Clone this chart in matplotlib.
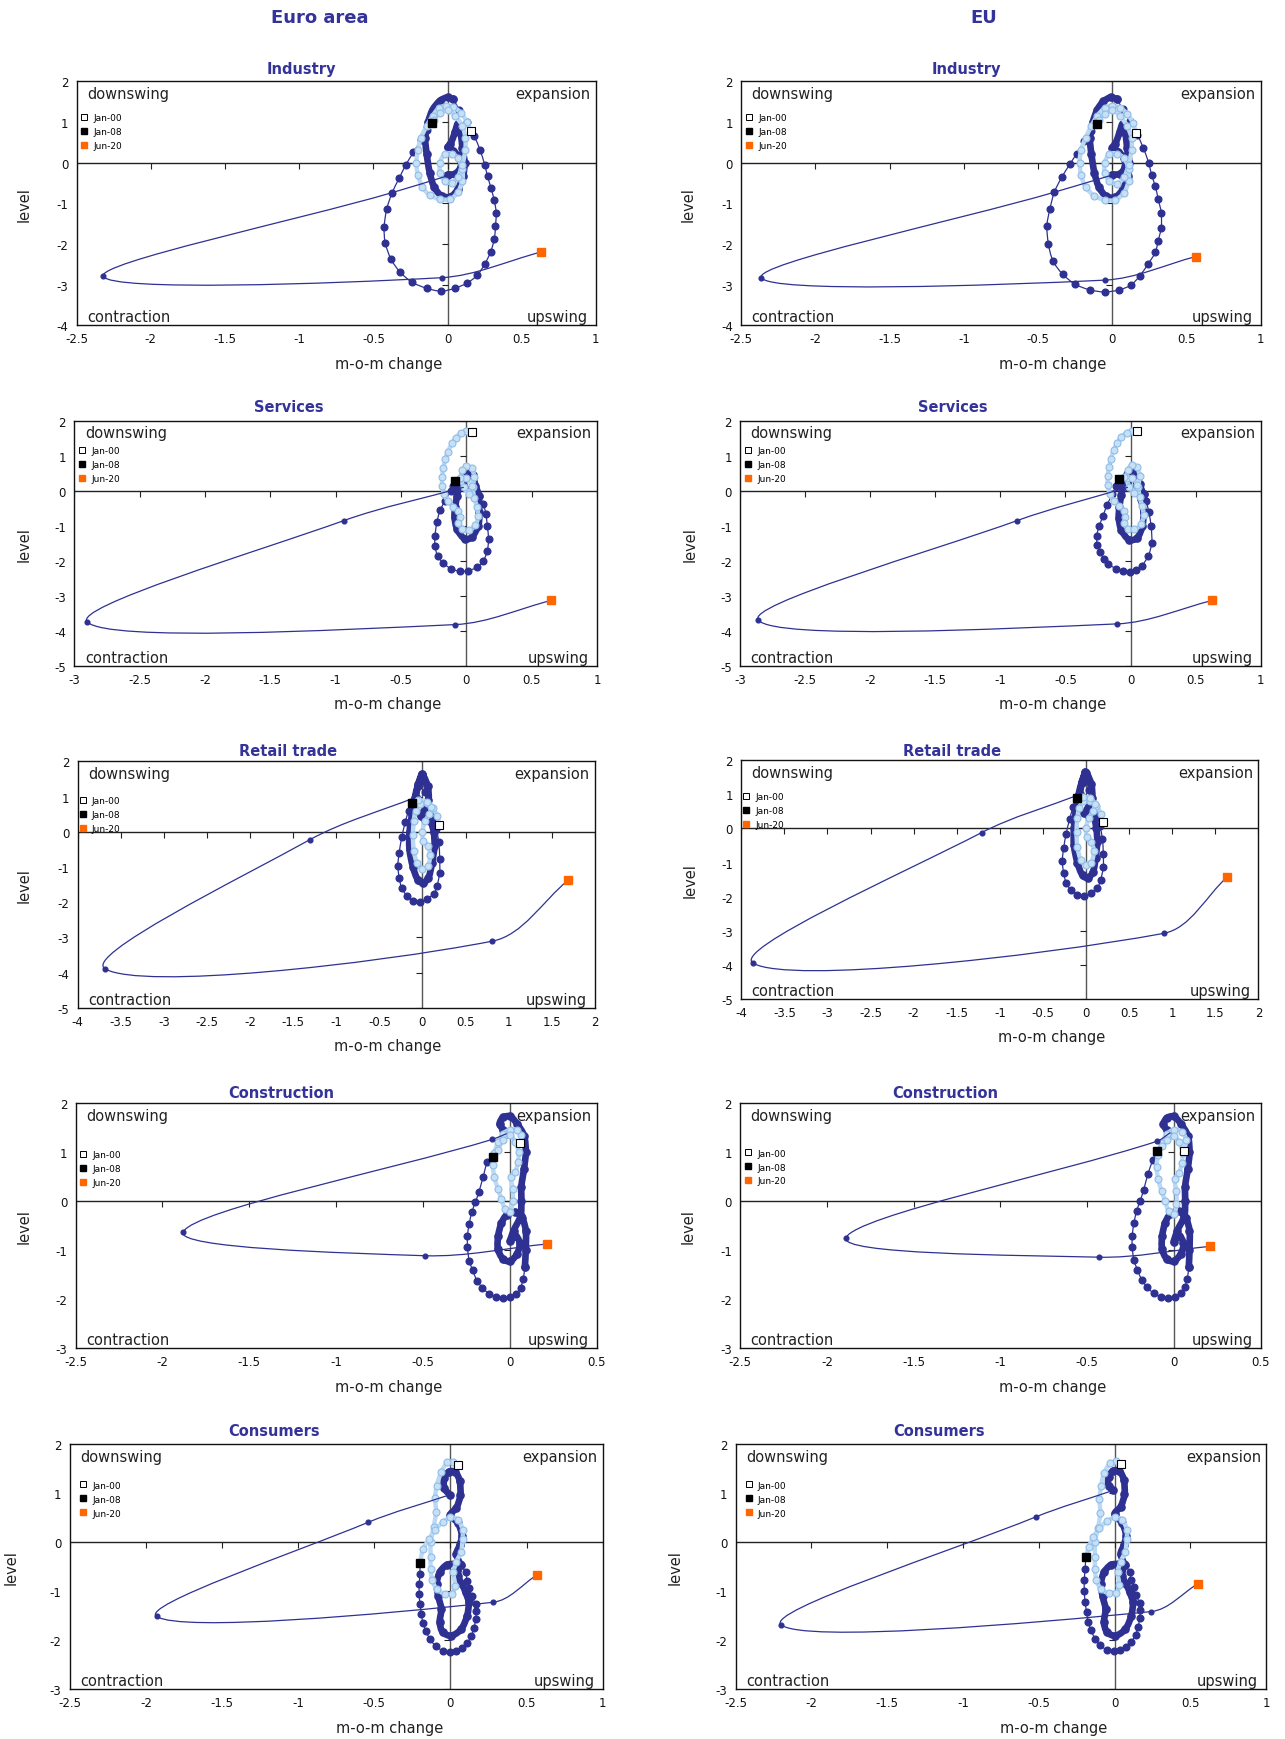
import matplotlib

matplotlib.use("Agg")
import matplotlib.pyplot as plt
import numpy as np
from matplotlib.lines import Line2D
from matplotlib.patches import PathPatch
from matplotlib.path import Path

W, H = 1285, 1740
NAVY = "#2E3192"
LIGHT_LINE = "#BCD9F3"
LIGHT_FILL = "#C8E0F6"
LIGHT_EDGE = "#8FBDE8"
ORANGE = "#FF6600"
TITLE_BLUE = "#333399"

# ---- Euro area -------------------------------------------------------------
IND_EA_LIGHT = [
    (0.156, 0.77), (0.13, 1.0), (0.09, 1.22), (0.04, 1.36), (-0.01, 1.4), (-0.06, 1.33),
    (-0.1, 1.15), (-0.14, 0.9), (-0.18, 0.6), (-0.2, 0.3), (-0.21, 0.0), (-0.2, -0.3),
    (-0.17, -0.6), (-0.12, -0.8), (-0.05, -0.9), (0.02, -0.9), (0.07, -0.72), (0.1, -0.45),
    (0.1, -0.15), (0.07, 0.1), (0.03, 0.22), (-0.02, 0.2), (-0.05, 0.0), (-0.05, -0.25),
    (-0.02, -0.45), (0.03, -0.5), (0.07, -0.35), (0.1, -0.05), (0.12, 0.3), (0.12, 0.6),
    (0.1, 0.9), (0.05, 1.15), (0.0, 1.28), (-0.05, 1.22), (-0.09, 1.05), (-0.107, 0.96),
]
IND_EA_CRISIS = [
    (-0.107, 0.96), (-0.14, 0.8), (-0.18, 0.55), (-0.23, 0.25), (-0.28, -0.05), (-0.325, -0.38),
    (-0.373, -0.74), (-0.41, -1.15), (-0.427, -1.59), (-0.42, -1.97), (-0.38, -2.38),
    (-0.32, -2.69), (-0.24, -2.94), (-0.14, -3.09), (-0.043, -3.16), (0.048, -3.09),
    (0.133, -2.96), (0.2, -2.77), (0.25, -2.5), (0.29, -2.2), (0.315, -1.88), (0.323, -1.57),
    (0.328, -1.24), (0.315, -0.93), (0.293, -0.63), (0.27, -0.34), (0.25, -0.05), (0.22, 0.3),
    (0.18, 0.65), (0.13, 1.0), (0.08, 1.3), (0.04, 1.55),
]
IND_EA_RECENT = [
    (0.04, 1.55), (0.0, 1.6), (-0.05, 1.52), (-0.1, 1.3), (-0.13, 1.0), (-0.15, 0.6),
    (-0.14, 0.2), (-0.12, -0.25), (-0.09, -0.6), (-0.04, -0.82), (0.02, -0.84), (0.07, -0.65),
    (0.105, -0.32), (0.115, 0.0), (0.1, 0.35), (0.09, 0.7), (0.07, 0.95), (0.05, 0.75),
    (0.02, 0.45), (0.0, 0.37), (0.04, 0.28), (0.08, 0.12), (0.09, -0.1), (0.05, -0.28),
    (0.0, -0.3), (-0.02, -0.35),
]
IND_EA_COVID = [(-0.02, -0.35), (-0.373, -0.74), (-2.32, -2.8), (-0.04, -2.83), (0.63, -2.2)]

SRV_EA_LIGHT = [
    (0.04, 1.69), (0.0, 1.7), (-0.04, 1.64), (-0.08, 1.52), (-0.11, 1.35), (-0.14, 1.12),
    (-0.16, 0.9), (-0.175, 0.65), (-0.185, 0.4), (-0.185, 0.15), (-0.17, -0.1), (-0.14, -0.3),
    (-0.1, -0.45), (-0.06, -0.58), (-0.05, -0.75), (-0.06, -0.92), (-0.03, -1.08), (0.02, -1.12),
    (0.07, -0.98), (0.09, -0.72), (0.08, -0.45), (0.06, -0.2), (0.05, 0.1), (0.06, 0.4),
    (0.04, 0.65), (0.0, 0.72), (-0.03, 0.58), (-0.04, 0.35), (-0.02, 0.1), (0.02, -0.08),
    (0.04, 0.15), (0.0, 0.35), (-0.05, 0.35), (-0.084, 0.29),
]
SRV_EA_CRISIS = [
    (-0.084, 0.29), (-0.1, 0.15), (-0.12, 0.0), (-0.16, -0.28), (-0.2, -0.55), (-0.225, -0.9),
    (-0.24, -1.29), (-0.24, -1.57), (-0.22, -1.86), (-0.18, -2.05), (-0.12, -2.22), (-0.05, -2.3),
    (0.01, -2.28), (0.08, -2.19), (0.13, -2.0), (0.16, -1.72), (0.17, -1.38), (0.16, -1.0),
    (0.15, -0.67), (0.13, -0.38), (0.1, -0.14),
]
SRV_EA_RECENT = [
    (0.1, -0.14), (0.07, 0.15), (0.05, 0.45), (0.02, 0.6), (-0.02, 0.5), (-0.05, 0.25),
    (-0.07, -0.14), (-0.085, -0.45), (-0.09, -0.75), (-0.07, -1.1), (-0.01, -1.38), (0.04, -1.33),
    (0.09, -1.0), (0.1, -0.62), (0.08, -0.24), (0.05, 0.14), (0.03, 0.45), (0.01, 0.55),
    (-0.01, 0.4), (-0.02, 0.1),
]
SRV_EA_COVID = [(-0.02, 0.1), (-0.936, -0.85), (-2.9, -3.75), (-0.083, -3.82), (0.65, -3.13)]

RET_EA_LIGHT = [
    (0.195, 0.2), (0.17, 0.45), (0.12, 0.68), (0.05, 0.82), (-0.03, 0.8), (-0.08, 0.6),
    (-0.1, 0.3), (-0.11, -0.1), (-0.1, -0.55), (-0.06, -0.9), (0.0, -1.05), (0.06, -0.98),
    (0.09, -0.65), (0.06, -0.4), (0.01, -0.25), (0.0, 0.0), (0.03, 0.3), (0.08, 0.5),
    (0.1, 0.7), (0.05, 0.85), (-0.05, 0.9), (-0.125, 0.83),
]
RET_EA_CRISIS = [
    (-0.125, 0.83), (-0.16, 0.6), (-0.2, 0.27), (-0.24, -0.16), (-0.27, -0.6), (-0.285, -0.97),
    (-0.27, -1.3), (-0.24, -1.6), (-0.18, -1.82), (-0.106, -1.96), (-0.03, -1.99), (0.05, -1.9),
    (0.13, -1.77), (0.17, -1.53), (0.2, -1.16), (0.2, -0.78), (0.19, -0.3), (0.16, 0.08),
    (0.13, 0.36), (0.09, 0.55), (0.05, 0.83), (0.03, 1.12), (0.0, 1.5), (-0.01, 1.64),
]
RET_EA_RECENT = [
    (-0.01, 1.64), (-0.05, 1.35), (-0.09, 0.95), (-0.12, 0.5), (-0.15, 0.0), (-0.15, -0.5),
    (-0.11, -1.0), (-0.05, -1.38), (0.01, -1.45), (0.07, -1.3), (0.11, -0.9), (0.14, -0.4),
    (0.13, 0.0), (0.09, 0.3), (0.02, 0.4), (-0.02, 0.45), (0.02, 0.6), (0.07, 0.9),
    (0.06, 1.3), (0.0, 1.6), (-0.05, 1.3), (-0.08, 0.98),
]
RET_EA_COVID = [(-0.08, 0.98), (-1.31, -0.23), (-3.68, -3.9), (0.81, -3.11), (1.69, -1.38)]

CON_EA_LIGHT = [
    (0.058, 1.18), (0.065, 1.35), (0.04, 1.45), (0.0, 1.46), (-0.04, 1.38), (-0.07, 1.2),
    (-0.09, 0.98), (-0.1, 0.75), (-0.09, 0.5), (-0.07, 0.25), (-0.05, 0.05), (-0.03, -0.15),
    (0.0, -0.22), (0.015, 0.0), (0.015, 0.25), (0.005, 0.5), (0.03, 0.6), (0.045, 0.8),
    (0.05, 1.0), (0.03, 1.2), (0.0, 1.35), (-0.04, 1.25), (-0.07, 1.05), (-0.1, 0.9),
]
CON_EA_CRISIS = [
    (-0.1, 0.9), (-0.13, 0.8), (-0.155, 0.5), (-0.18, 0.18), (-0.2, -0.02), (-0.22, -0.22),
    (-0.235, -0.46), (-0.245, -0.7), (-0.245, -0.94), (-0.235, -1.21), (-0.215, -1.41),
    (-0.19, -1.62), (-0.16, -1.76), (-0.12, -1.89), (-0.08, -1.96), (-0.04, -1.98), (0.0, -1.96),
    (0.035, -1.89), (0.06, -1.76), (0.075, -1.59), (0.085, -1.35),
]
CON_EA_RECENT = [
    (0.085, -1.35), (0.09, -1.0), (0.09, -0.6), (0.07, -0.35), (0.03, -0.22), (-0.02, -0.28),
    (-0.05, -0.45), (-0.068, -0.7), (-0.07, -0.97), (-0.04, -1.18), (0.0, -1.22), (0.04, -1.07),
    (0.055, -0.85), (0.03, -0.7), (0.0, -0.82), (0.02, -0.6), (0.06, -0.3), (0.065, 0.0),
    (0.065, 0.3), (0.08, 0.66), (0.09, 1.0), (0.08, 1.34), (0.04, 1.58), (0.0, 1.73),
    (-0.04, 1.71), (-0.06, 1.58), (-0.04, 1.46), (-0.02, 1.38),
]
CON_EA_COVID = [(-0.02, 1.38), (-0.104, 1.26), (-1.88, -0.62), (-0.49, -1.11), (0.215, -0.87)]

CNS_EA_LIGHT = [
    (0.048, 1.57), (0.02, 1.63), (-0.02, 1.62), (-0.06, 1.42), (-0.09, 1.15), (-0.1, 0.9),
    (-0.095, 0.6), (-0.11, 0.3), (-0.13, 0.0), (-0.13, -0.3), (-0.13, -0.55), (-0.12, -0.78),
    (-0.09, -0.96), (-0.035, -1.06), (0.01, -1.06), (0.03, -0.89), (0.02, -0.62), (0.04, -0.4),
    (0.07, -0.2), (0.08, 0.05), (0.08, 0.25), (0.05, 0.45), (0.0, 0.5), (-0.05, 0.4),
    (-0.1, 0.25), (-0.14, 0.05), (-0.18, -0.15), (-0.2, -0.43),
]
CNS_EA_CRISIS = [
    (-0.2, -0.43), (-0.2, -0.65), (-0.205, -0.86), (-0.205, -1.06), (-0.2, -1.27), (-0.19, -1.47),
    (-0.18, -1.66), (-0.16, -1.81), (-0.136, -1.98), (-0.097, -2.12), (-0.05, -2.22),
    (-0.005, -2.25), (0.034, -2.23), (0.073, -2.17), (0.11, -2.07), (0.138, -1.91),
    (0.155, -1.75), (0.165, -1.58), (0.17, -1.4), (0.165, -1.27), (0.14, -1.1), (0.125, -0.93),
    (0.11, -0.79), (0.1, -0.62), (0.07, -0.48),
]
CNS_EA_RECENT = [
    (0.07, -0.48), (0.03, -0.45), (-0.025, -0.47), (-0.07, -0.62), (-0.09, -0.85), (-0.08, -1.1),
    (-0.06, -1.37), (-0.07, -1.64), (-0.05, -1.84), (0.005, -1.91), (0.07, -1.78), (0.11, -1.5),
    (0.12, -1.23), (0.1, -1.03), (0.075, -0.85), (0.05, -0.7), (0.06, -0.45), (0.04, -0.24),
    (0.06, -0.07), (0.075, 0.13), (0.05, 0.38), (0.0, 0.55), (0.04, 0.7), (0.065, 0.95),
    (0.06, 1.25), (0.03, 1.43), (-0.01, 1.43), (-0.04, 1.3), (-0.04, 1.1), (-0.005, 0.96),
]
CNS_EA_COVID = [(-0.005, 0.96), (-0.54, 0.4), (-1.93, -1.52), (0.28, -1.23), (0.57, -0.67)]

# ---- EU --------------------------------------------------------------------
IND_EU_LIGHT = [
    (0.16, 0.725), (0.14, 0.97), (0.1, 1.2), (0.05, 1.35), (0.0, 1.4), (-0.05, 1.34),
    (-0.1, 1.15), (-0.14, 0.9), (-0.18, 0.6), (-0.21, 0.3), (-0.22, 0.0), (-0.21, -0.3),
    (-0.18, -0.6), (-0.12, -0.82), (-0.05, -0.92), (0.02, -0.92), (0.08, -0.74), (0.11, -0.45),
    (0.11, -0.15), (0.08, 0.1), (0.03, 0.22), (-0.02, 0.2), (-0.05, 0.0), (-0.05, -0.25),
    (-0.02, -0.45), (0.03, -0.52), (0.08, -0.36), (0.11, -0.05), (0.13, 0.3), (0.13, 0.6),
    (0.1, 0.9), (0.05, 1.15), (0.0, 1.28), (-0.05, 1.2), (-0.09, 1.04), (-0.106, 0.95),
]
IND_EU_CRISIS = [
    (-0.106, 0.95), (-0.14, 0.78), (-0.19, 0.52), (-0.24, 0.22), (-0.285, -0.04), (-0.34, -0.36),
    (-0.39, -0.73), (-0.42, -1.14), (-0.44, -1.55), (-0.43, -2.0), (-0.4, -2.41), (-0.335, -2.74),
    (-0.25, -2.99), (-0.15, -3.13), (-0.05, -3.18), (0.047, -3.13), (0.126, -3.01),
    (0.187, -2.78), (0.24, -2.5), (0.29, -2.21), (0.31, -1.92), (0.33, -1.6), (0.33, -1.23),
    (0.31, -0.9), (0.29, -0.58), (0.265, -0.3), (0.245, 0.0), (0.21, 0.35), (0.17, 0.68),
    (0.12, 1.02), (0.07, 1.32), (0.03, 1.56),
]
IND_EU_RECENT = [
    (0.03, 1.56), (-0.01, 1.6), (-0.06, 1.5), (-0.1, 1.3), (-0.13, 1.0), (-0.15, 0.6),
    (-0.14, 0.2), (-0.12, -0.25), (-0.09, -0.6), (-0.04, -0.83), (0.02, -0.85), (0.07, -0.66),
    (0.105, -0.33), (0.115, 0.0), (0.1, 0.35), (0.09, 0.7), (0.07, 0.95), (0.05, 0.75),
    (0.02, 0.45), (0.0, 0.36), (0.04, 0.27), (0.08, 0.1), (0.085, -0.12), (0.05, -0.28),
    (0.0, -0.3), (-0.02, -0.33),
]
IND_EU_COVID = [(-0.02, -0.33), (-0.39, -0.73), (-2.365, -2.83), (-0.05, -2.89), (0.564, -2.31)]

SRV_EU_LIGHT = [
    (0.047, 1.7), (0.01, 1.72), (-0.03, 1.66), (-0.07, 1.54), (-0.1, 1.37), (-0.13, 1.15),
    (-0.15, 0.92), (-0.165, 0.67), (-0.175, 0.42), (-0.175, 0.17), (-0.16, -0.08), (-0.13, -0.28),
    (-0.09, -0.43), (-0.05, -0.57), (-0.04, -0.75), (-0.05, -0.93), (-0.02, -1.08), (0.03, -1.1),
    (0.08, -0.96), (0.1, -0.7), (0.09, -0.43), (0.07, -0.18), (0.06, 0.12), (0.07, 0.42),
    (0.05, 0.67), (0.01, 0.74), (-0.02, 0.6), (-0.03, 0.37), (-0.01, 0.12), (0.03, -0.06),
    (0.05, 0.17), (0.01, 0.37), (-0.05, 0.38), (-0.088, 0.33),
]
SRV_EU_CRISIS = [
    (-0.088, 0.33), (-0.11, 0.15), (-0.14, -0.1), (-0.18, -0.4), (-0.21, -0.71), (-0.24, -1.0),
    (-0.26, -1.29), (-0.255, -1.55), (-0.235, -1.76), (-0.2, -1.95), (-0.17, -2.1),
    (-0.11, -2.22), (-0.055, -2.29), (-0.004, -2.31), (0.045, -2.25), (0.086, -2.14),
    (0.137, -1.86), (0.163, -1.48), (0.158, -1.0), (0.14, -0.6), (0.12, -0.3), (0.1, -0.1),
]
SRV_EU_RECENT = [
    (0.1, -0.1), (0.07, 0.18), (0.05, 0.47), (0.02, 0.62), (-0.02, 0.52), (-0.05, 0.27),
    (-0.07, -0.12), (-0.085, -0.45), (-0.09, -0.78), (-0.07, -1.12), (-0.01, -1.4), (0.05, -1.35),
    (0.09, -1.02), (0.1, -0.62), (0.08, -0.24), (0.05, 0.14), (0.03, 0.45), (0.01, 0.55),
    (-0.01, 0.4), (-0.02, 0.1),
]
SRV_EU_COVID = [(-0.02, 0.1), (-0.87, -0.85), (-2.86, -3.7), (-0.1, -3.8), (0.63, -3.13)]

RET_EU_LIGHT = [
    (0.196, 0.18), (0.17, 0.43), (0.12, 0.67), (0.05, 0.82), (-0.03, 0.8), (-0.08, 0.6),
    (-0.1, 0.3), (-0.11, -0.1), (-0.1, -0.55), (-0.06, -0.92), (0.0, -1.07), (0.06, -1.0),
    (0.09, -0.66), (0.06, -0.4), (0.01, -0.25), (0.0, 0.0), (0.03, 0.3), (0.08, 0.5),
    (0.1, 0.72), (0.05, 0.88), (-0.04, 0.93), (-0.11, 0.89),
]
RET_EU_CRISIS = [
    (-0.11, 0.89), (-0.15, 0.62), (-0.19, 0.28), (-0.23, -0.15), (-0.26, -0.58), (-0.275, -0.96),
    (-0.26, -1.3), (-0.23, -1.6), (-0.17, -1.82), (-0.1, -1.96), (-0.02, -1.99), (0.06, -1.9),
    (0.13, -1.76), (0.17, -1.5), (0.2, -1.14), (0.2, -0.76), (0.19, -0.3), (0.16, 0.08),
    (0.13, 0.36), (0.09, 0.56), (0.05, 0.85), (0.03, 1.14), (0.0, 1.52), (-0.01, 1.66),
]
RET_EU_RECENT = [
    (-0.01, 1.66), (-0.05, 1.36), (-0.09, 0.96), (-0.12, 0.5), (-0.14, 0.0), (-0.14, -0.5),
    (-0.1, -1.0), (-0.04, -1.38), (0.02, -1.45), (0.08, -1.28), (0.11, -0.88), (0.13, -0.4),
    (0.12, 0.0), (0.09, 0.3), (0.02, 0.4), (-0.02, 0.45), (0.02, 0.6), (0.07, 0.9),
    (0.06, 1.3), (0.0, 1.62), (-0.05, 1.32), (-0.07, 1.0),
]
RET_EU_COVID = [(-0.07, 1.0), (-1.21, -0.12), (-3.86, -3.96), (0.9, -3.08), (1.64, -1.42)]

CON_EU_LIGHT = [
    (0.058, 1.03), (0.07, 1.25), (0.045, 1.42), (0.0, 1.46), (-0.04, 1.37), (-0.07, 1.18),
    (-0.09, 0.95), (-0.1, 0.7), (-0.09, 0.45), (-0.07, 0.2), (-0.05, 0.0), (-0.03, -0.2),
    (0.0, -0.26), (0.015, -0.05), (0.015, 0.2), (0.005, 0.45), (0.03, 0.57), (0.045, 0.78),
    (0.05, 0.98), (0.03, 1.2), (0.0, 1.33), (-0.04, 1.25), (-0.07, 1.12), (-0.095, 1.03),
]
CON_EU_CRISIS = [
    (-0.095, 1.03), (-0.12, 0.85), (-0.15, 0.55), (-0.175, 0.22), (-0.195, 0.0), (-0.215, -0.2),
    (-0.23, -0.45), (-0.24, -0.7), (-0.24, -0.94), (-0.23, -1.2), (-0.21, -1.4), (-0.185, -1.6),
    (-0.155, -1.75), (-0.115, -1.88), (-0.075, -1.95), (-0.035, -1.98), (0.005, -1.96),
    (0.04, -1.88), (0.062, -1.75), (0.077, -1.58), (0.086, -1.35),
]
CON_EU_RECENT = [
    (0.086, -1.35), (0.09, -1.0), (0.09, -0.6), (0.07, -0.35), (0.03, -0.2), (-0.02, -0.26),
    (-0.05, -0.44), (-0.067, -0.7), (-0.068, -0.97), (-0.04, -1.18), (0.0, -1.22), (0.04, -1.07),
    (0.055, -0.86), (0.03, -0.7), (0.0, -0.83), (0.02, -0.6), (0.06, -0.3), (0.065, 0.0),
    (0.065, 0.3), (0.08, 0.66), (0.09, 1.0), (0.08, 1.34), (0.04, 1.58), (0.0, 1.73),
    (-0.04, 1.7), (-0.06, 1.57), (-0.04, 1.45), (-0.02, 1.4),
]
CON_EU_COVID = [(-0.02, 1.4), (-0.1, 1.22), (-1.89, -0.74), (-0.43, -1.14), (0.206, -0.92)]

CNS_EU_LIGHT = [
    (0.04, 1.59), (0.01, 1.64), (-0.03, 1.6), (-0.07, 1.4), (-0.09, 1.13), (-0.1, 0.88),
    (-0.095, 0.58), (-0.11, 0.28), (-0.13, 0.0), (-0.13, -0.3), (-0.13, -0.55), (-0.12, -0.78),
    (-0.09, -0.96), (-0.035, -1.05), (0.01, -1.04), (0.03, -0.88), (0.02, -0.62), (0.04, -0.4),
    (0.07, -0.2), (0.08, 0.05), (0.08, 0.25), (0.05, 0.45), (0.0, 0.5), (-0.05, 0.42),
    (-0.1, 0.28), (-0.14, 0.1), (-0.17, -0.1), (-0.19, -0.31),
]
CNS_EU_CRISIS = [
    (-0.19, -0.31), (-0.195, -0.55), (-0.2, -0.78), (-0.2, -1.0), (-0.195, -1.22), (-0.185, -1.43),
    (-0.175, -1.63), (-0.155, -1.8), (-0.13, -1.97), (-0.095, -2.11), (-0.05, -2.2),
    (-0.005, -2.23), (0.035, -2.21), (0.075, -2.15), (0.11, -2.04), (0.138, -1.89),
    (0.155, -1.73), (0.165, -1.56), (0.17, -1.38), (0.165, -1.25), (0.14, -1.08), (0.125, -0.92),
    (0.11, -0.78), (0.1, -0.62), (0.07, -0.48),
]
CNS_EU_RECENT = [
    (0.07, -0.48), (0.03, -0.45), (-0.025, -0.47), (-0.07, -0.62), (-0.09, -0.85), (-0.08, -1.1),
    (-0.06, -1.37), (-0.07, -1.64), (-0.05, -1.84), (0.005, -1.91), (0.07, -1.78), (0.11, -1.5),
    (0.12, -1.23), (0.1, -1.03), (0.075, -0.85), (0.05, -0.7), (0.06, -0.45), (0.04, -0.24),
    (0.06, -0.07), (0.075, 0.13), (0.05, 0.38), (0.0, 0.57), (0.04, 0.72), (0.065, 0.97),
    (0.06, 1.27), (0.03, 1.45), (-0.01, 1.45), (-0.04, 1.32), (-0.04, 1.14), (-0.01, 1.05),
]
CNS_EU_COVID = [(-0.01, 1.05), (-0.52, 0.51), (-2.2, -1.69), (0.24, -1.42), (0.55, -0.85)]

LEGEND_LABELS = ["Jan-00", "Jan-08", "Jun-20"]

# panel layout: rect in pixels (left, top, right, bottom) of the plot frame
PANELS = [
    dict(rect=(76.6, 82.1, 595.9, 326.3), title="Industry", tx=301.8, ty=69.9, xlim=(-2.5, 1), ylim=(-4, 2),
         series=(IND_EA_LIGHT, IND_EA_CRISIS, IND_EA_RECENT, IND_EA_COVID), leg=(0.008, 0.87), ylx=24),
    dict(rect=(741.3, 82.1, 1260.6, 326.3), title="Industry", tx=966.5, ty=69.9, xlim=(-2.5, 1), ylim=(-4, 2),
         series=(IND_EU_LIGHT, IND_EU_CRISIS, IND_EU_RECENT, IND_EU_COVID), leg=(0.008, 0.87), ylx=688),
    dict(rect=(74.3, 421.7, 597.0, 666.9), title="Services", tx=288.5, ty=407.3, xlim=(-3, 1), ylim=(-5, 2),
         series=(SRV_EA_LIGHT, SRV_EA_CRISIS, SRV_EA_RECENT, SRV_EA_COVID), leg=(0.008, 0.896), ylx=24),
    dict(rect=(740.2, 421.7, 1260.6, 666.9), title="Services", tx=953.2, ty=407.3, xlim=(-3, 1), ylim=(-5, 2),
         series=(SRV_EU_LIGHT, SRV_EU_CRISIS, SRV_EU_RECENT, SRV_EU_COVID), leg=(0.008, 0.896), ylx=690),
    dict(rect=(77.7, 762.4, 594.8, 1008.7), title="Retail trade", tx=288.5, ty=751.3, xlim=(-4, 2), ylim=(-5, 2),
         series=(RET_EA_LIGHT, RET_EA_CRISIS, RET_EA_RECENT, RET_EA_COVID), leg=(0.003, 0.86), ylx=24),
    dict(rect=(741.3, 761.3, 1258.4, 999.8), title="Retail trade", tx=952.1, ty=751.3, xlim=(-4, 2), ylim=(-5, 2),
         series=(RET_EU_LIGHT, RET_EU_CRISIS, RET_EU_RECENT, RET_EU_COVID), leg=(0.003, 0.866), ylx=690),
    dict(rect=(75.5, 1104.2, 597.0, 1349.4), title="Construction", tx=280.8, ty=1093, xlim=(-2.5, 0.5), ylim=(-3, 2),
         series=(CON_EA_LIGHT, CON_EA_CRISIS, CON_EA_RECENT, CON_EA_COVID), leg=(0.008, 0.81), ylx=24),
    dict(rect=(740.2, 1104.2, 1260.6, 1349.4), title="Construction", tx=945.5, ty=1093, xlim=(-2.5, 0.5),
         ylim=(-3, 2), series=(CON_EU_LIGHT, CON_EU_CRISIS, CON_EU_RECENT, CON_EU_COVID), leg=(0.008, 0.815),
         ylx=688),
    dict(rect=(69.9, 1444.8, 602.6, 1690.1), title="Consumers", tx=274.1, ty=1431.5, xlim=(-2.5, 1), ylim=(-3, 2),
         series=(CNS_EA_LIGHT, CNS_EA_CRISIS, CNS_EA_RECENT, CNS_EA_COVID), leg=(0.018, 0.85), ylx=11),
    dict(rect=(735.7, 1444.8, 1266.2, 1690.1), title="Consumers", tx=938.8, ty=1431.5, xlim=(-2.5, 1), ylim=(-3, 2),
         series=(CNS_EU_LIGHT, CNS_EU_CRISIS, CNS_EU_RECENT, CNS_EU_COVID), leg=(0.018, 0.85), ylx=675),
]


def smooth_path(points, sx, sy):
    # Catmull-Rom style curve through the points (tangents weighted by on-screen segment length)
    pts = np.asarray(points, dtype=float)
    n = len(pts)
    scr = pts * np.array([sx, sy])
    seg = np.hypot(*np.diff(scr, axis=0).T)
    seg = np.where(seg == 0, 1e-9, seg)
    verts = [pts[0]]
    codes = [Path.MOVETO]
    for i in range(n - 1):
        p0 = pts[max(i - 1, 0)]
        p1 = pts[i]
        p2 = pts[i + 1]
        p3 = pts[min(i + 2, n - 1)]
        d01 = seg[i - 1] if i > 0 else 0.0
        d12 = seg[i]
        d23 = seg[i + 1] if i + 1 < n - 1 else 0.0
        c1 = p1 + (p2 - p0) * d12 / (3.0 * (d01 + d12))
        c2 = p2 - (p3 - p1) * d12 / (3.0 * (d12 + d23))
        verts += [c1, c2, p2]
        codes += [Path.CURVE4] * 3
    return Path(verts, codes)


def draw_panel(fig, spec):
    l, t, r, b = spec["rect"]
    ax = fig.add_axes([l / W, 1 - b / H, (r - l) / W, (b - t) / H])
    x0, x1 = spec["xlim"]
    y0, y1 = spec["ylim"]
    sx = (r - l) / (x1 - x0)
    sy = (b - t) / (y1 - y0)
    ax.set_xlim(x0, x1)
    ax.set_ylim(y0, y1)
    xt = np.arange(x0, x1 + 0.01, 0.5)
    yt = np.arange(y0, y1 + 0.01, 1.0)
    ax.set_xticks(xt, [f"{v:g}" for v in xt])
    ax.set_yticks(yt, [f"{v:g}" for v in yt])
    ax.tick_params(axis="both", length=0, labelsize=8.5, colors="#111111")
    ax.tick_params(axis="x", pad=5)
    ax.tick_params(axis="y", pad=6)
    for sp in ax.spines.values():
        sp.set_linewidth(1.0)
        sp.set_color("#111111")

    # zero axes with small tick marks
    ax.axhline(0, color="#222222", lw=1.0, zorder=1)
    ax.axvline(0, color="#555555", lw=1.0, zorder=1)
    ax.plot(xt, np.zeros_like(xt), ls="none", marker=3, ms=4, mew=0.8, color="#222222", zorder=1)
    ax.plot(np.zeros_like(yt), yt, ls="none", marker=0, ms=4, mew=0.8, color="#222222", zorder=1)

    light, crisis, recent, covid = (np.asarray(s, dtype=float) for s in spec["series"])

    ax.add_patch(PathPatch(smooth_path(crisis, sx, sy), fill=False, ec=NAVY, lw=0.9, zorder=3))
    ax.plot(crisis[:, 0], crisis[:, 1], ls="none", marker="o", ms=4.8, mfc=NAVY, mec=NAVY, zorder=3)
    ax.add_patch(PathPatch(smooth_path(recent, sx, sy), fill=False, ec=NAVY, lw=4.8, capstyle="round",
                           joinstyle="round", zorder=3))
    ax.plot(recent[:, 0], recent[:, 1], ls="none", marker="o", ms=5.2, mfc=NAVY, mec=NAVY, zorder=3)

    ax.add_patch(PathPatch(smooth_path(light, sx, sy), fill=False, ec=LIGHT_LINE, lw=3.2, capstyle="round",
                           joinstyle="round", zorder=4))
    ax.plot(light[:, 0], light[:, 1], ls="none", marker="o", ms=5.0, mfc=LIGHT_FILL, mec=LIGHT_EDGE,
            mew=0.8, zorder=4)

    ax.add_patch(PathPatch(smooth_path(covid, sx, sy), fill=False, ec=NAVY, lw=0.9, zorder=5))
    ax.plot(covid[1:-1, 0], covid[1:-1, 1], ls="none", marker="o", ms=3.4, mfc=NAVY, mec=NAVY, zorder=5)

    ax.plot(light[0, 0], light[0, 1], marker="s", ms=5.6, mfc="white", mec="black", mew=0.8, zorder=6)
    ax.plot(crisis[0, 0], crisis[0, 1], marker="s", ms=5.6, mfc="black", mec="black", zorder=6)
    ax.plot(covid[-1, 0], covid[-1, 1], marker="s", ms=5.6, mfc=ORANGE, mec=ORANGE, zorder=6)

    kw = dict(transform=ax.transAxes, fontsize=10.5, color="#222222", va="center")
    ax.text(0.02, 0.95, "downswing", ha="left", **kw)
    ax.text(0.99, 0.95, "expansion", ha="right", **kw)
    ax.text(0.02, 0.035, "contraction", ha="left", **kw)
    ax.text(0.985, 0.035, "upswing", ha="right", **kw)

    handles = [
        Line2D([], [], ls="none", marker="s", ms=4.5, mfc="white", mec="black", mew=0.7),
        Line2D([], [], ls="none", marker="s", ms=4.5, mfc="black", mec="black"),
        Line2D([], [], ls="none", marker="s", ms=4.5, mfc=ORANGE, mec=ORANGE),
    ]
    ax.legend(handles, LEGEND_LABELS, loc="upper left", bbox_to_anchor=spec["leg"], frameon=False,
              fontsize=6.5, handlelength=0.8, handletextpad=0.6, labelspacing=0.55, borderpad=0,
              borderaxespad=0)

    fig.text(spec["tx"] / W, 1 - spec["ty"] / H, spec["title"], ha="center", va="center",
             fontsize=10.5, fontweight="bold", color=TITLE_BLUE)
    fig.text((l + 0.6 * (r - l)) / W, 1 - (b + 38) / H, "m-o-m change", ha="center", va="center",
             fontsize=10.5, color="#222222")
    fig.text(spec["ylx"] / W, 1 - (t + b) / 2 / H, "level", ha="center", va="center", rotation=90,
             fontsize=10.5, color="#222222")


def main():
    plt.rcParams.update(
        {
            "font.family": "DejaVu Sans",
            "axes.unicode_minus": False,
        }
    )
    fig = plt.figure(figsize=(W / 100, H / 100), dpi=100, facecolor="white")
    fig.text(320 / W, 1 - 18 / H, "Euro area", ha="center", va="center", fontsize=13, fontweight="bold",
             color=TITLE_BLUE)
    fig.text(984 / W, 1 - 18 / H, "EU", ha="center", va="center", fontsize=13, fontweight="bold",
             color=TITLE_BLUE)
    for spec in PANELS:
        draw_panel(fig, spec)
    fig.savefig("out.png", dpi=100, facecolor="white")
    plt.close(fig)


if __name__ == "__main__":
    main()
